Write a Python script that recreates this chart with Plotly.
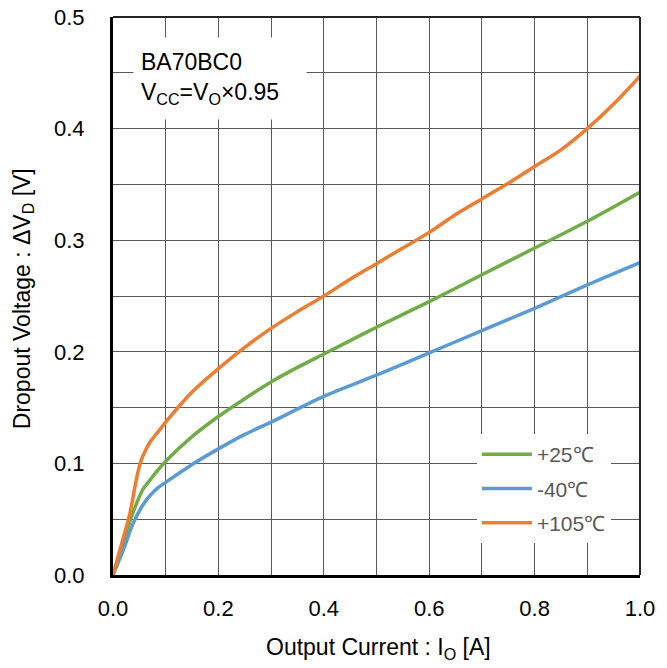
import plotly.graph_objects as go

# Data
x_25 = [0, 0.02, 0.038, 0.057, 0.07, 0.085, 0.10, 0.15, 0.20, 0.25, 0.30, 0.35, 0.40, 0.45, 0.50, 0.60, 0.70, 0.80, 0.90, 1.00]
y_25 = [0, 0.030, 0.056, 0.077, 0.085, 0.094, 0.102, 0.124, 0.142, 0.158, 0.173, 0.186, 0.198, 0.210, 0.222, 0.245, 0.269, 0.293, 0.317, 0.343]

x_m40 = [0, 0.02, 0.038, 0.057, 0.07, 0.085, 0.10, 0.15, 0.20, 0.25, 0.30, 0.40, 0.50, 0.60, 0.70, 0.80, 0.90, 1.00]
y_m40 = [0, 0.023, 0.046, 0.063, 0.071, 0.078, 0.083, 0.099, 0.113, 0.126, 0.137, 0.160, 0.179, 0.199, 0.219, 0.239, 0.260, 0.280]

x_105 = [0, 0.02, 0.032, 0.044, 0.051, 0.057, 0.07, 0.085, 0.10, 0.125, 0.15, 0.20, 0.25, 0.30, 0.35, 0.40, 0.45,
         0.50, 0.55, 0.60, 0.65, 0.70, 0.75, 0.80, 0.85, 0.90, 0.95, 1.00]
y_105 = [0, 0.034, 0.055, 0.085, 0.099, 0.107, 0.119, 0.128, 0.137, 0.151, 0.164, 0.185, 0.204, 0.221, 0.236, 0.250, 0.265,
         0.279, 0.293, 0.307, 0.323, 0.337, 0.351, 0.366, 0.381, 0.400, 0.422, 0.447]

series_names = ["+25℃", "-40℃", "+105℃"]
series_colors = ["#70AD47", "#5B9BD5", "#ED7D31"]

x_tick_step = 0.2
x_grid_step = 0.1
y_tick_step = 0.1
y_grid_step = 0.05

FONT = "Liberation Sans, Arial, sans-serif"
GRID = "#595959"

fig = go.Figure()
for i, (xs, ys) in enumerate([(x_25, y_25), (x_m40, y_m40), (x_105, y_105)]):
    fig.add_trace(go.Scatter(
        x=xs, y=ys, mode="lines", name=series_names[i],
        line=dict(color=series_colors[i], width=3.5, shape="spline", smoothing=0.8),
        legendgroup=str(i),
    ))

axis_common = dict(
    showgrid=True, gridcolor=GRID, gridwidth=1,
    showline=True, linecolor="black", linewidth=3, mirror=False,
    ticks="outside", tickcolor="rgba(0,0,0,0)",
    tickfont=dict(family=FONT, size=22, color="black"),
    zeroline=False, automargin=False, ticklabeloverflow="allow",
)

fig.update_xaxes(
    range=[0, 1.000001], tickmode="linear", tick0=0, dtick=x_tick_step, tickformat=".1f", ticklen=12,
    minor=dict(tickmode="linear", tick0=0, dtick=x_grid_step, showgrid=True, gridcolor=GRID, gridwidth=1, ticklen=0),
    **axis_common,
)
fig.update_yaxes(
    range=[0, 0.500001], tickmode="linear", tick0=0, dtick=y_tick_step, tickformat=".1f", ticklen=21,
    minor=dict(tickmode="linear", tick0=0, dtick=y_grid_step, showgrid=True, gridcolor=GRID, gridwidth=1, ticklen=0),
    **axis_common,
)

# top and right frame lines (thinner than the axis lines)
fig.add_shape(type="line", xref="paper", yref="paper", x0=0, x1=1, y0=1, y1=1,
              line=dict(color="#262626", width=2), layer="above")
fig.add_shape(type="line", xref="paper", yref="paper", x0=1, x1=1, y0=0, y1=1,
              line=dict(color="#262626", width=2), layer="above")

# axis titles
fig.add_annotation(
    xref="paper", yref="paper", x=0.503, y=-0.131, xanchor="center", yanchor="middle",
    text="Output Current : I<sub>O</sub> [A]", showarrow=False,
    font=dict(family=FONT, size=23, color="black"),
)
fig.add_annotation(
    xref="paper", yref="paper", x=-0.170, y=0.495, xanchor="center", yanchor="middle",
    text="Dropout Voltage : ΔV<sub>D</sub> [V]", showarrow=False, textangle=-90,
    font=dict(family=FONT, size=23, color="black"),
)

# condition box
fig.add_annotation(
    xref="paper", yref="paper", x=0.038, y=0.964, xanchor="left", yanchor="top",
    text="BA70BC0<br>V<sub>CC</sub>=V<sub>O</sub>×0.95", align="left", valign="middle",
    width=158, height=67, borderpad=7,
    showarrow=False, bgcolor="white",
    font=dict(family=FONT, size=23, color="black"),
)

fig.update_layout(
    width=667, height=668,
    margin=dict(l=105, r=35, t=9, b=101),
    plot_bgcolor="white", paper_bgcolor="white",
    showlegend=True,
    legend=dict(
        x=0.6905, y=0.2525, xanchor="left", yanchor="top",
        bgcolor="white", traceorder="grouped", tracegroupgap=4,
        font=dict(family=FONT, size=21, color="#595959"),
        itemwidth=50,
    ),
)

fig.write_html("out.html")
